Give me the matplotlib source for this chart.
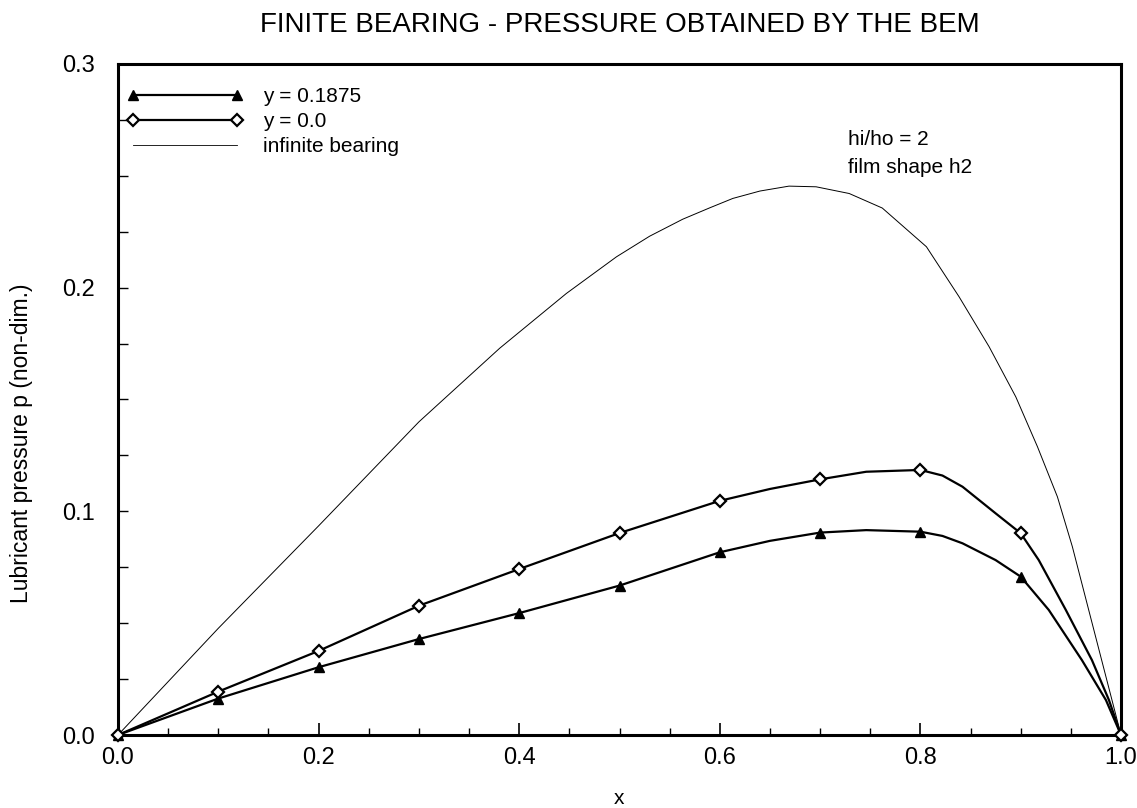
import matplotlib
matplotlib.use("Agg")
import matplotlib.pyplot as plt
from matplotlib.ticker import MultipleLocator, FormatStrFormatter
from matplotlib.lines import Line2D

plt.rcParams['font.family'] = ['Liberation Sans', 'DejaVu Sans']

# BEM results (markers)
x_pts = [0.0, 0.1, 0.2, 0.3, 0.4, 0.5, 0.6, 0.7, 0.8, 0.9, 1.0]
p_y01875 = [0.0, 0.0163, 0.0303, 0.0429, 0.0545, 0.0668, 0.0817, 0.0905, 0.0909, 0.0708, 0.0]
p_y00 = [0.0, 0.0194, 0.0376, 0.0578, 0.0742, 0.0903, 0.1047, 0.1143, 0.1185, 0.0902, 0.0]

# Curves through the BEM results
xl_y01875 = [0.0, 0.1, 0.2, 0.3, 0.4, 0.5, 0.6, 0.65, 0.7, 0.746, 0.8, 0.822, 0.842, 0.875, 0.9,
             0.928, 0.961, 0.985, 1.0]
pl_y01875 = [0.0, 0.0163, 0.0303, 0.0429, 0.0545, 0.0668, 0.0817, 0.0868, 0.0905, 0.0916, 0.0909,
             0.0890, 0.0857, 0.0782, 0.0708, 0.0559, 0.0335, 0.0156, 0.0]
xl_y00 = [0.0, 0.1, 0.2, 0.3, 0.4, 0.5, 0.6, 0.65, 0.7, 0.746, 0.8, 0.822, 0.842, 0.875, 0.9,
          0.918, 0.945, 0.971, 0.988, 1.0]
pl_y00 = [0.0, 0.0194, 0.0376, 0.0578, 0.0742, 0.0903, 0.1047, 0.1100, 0.1143, 0.1177, 0.1185,
          0.1160, 0.1110, 0.0991, 0.0902, 0.0782, 0.0559, 0.0335, 0.0156, 0.0]

# Infinite bearing solution
x_inf = [0.0, 0.1, 0.2, 0.3, 0.3805, 0.447, 0.497, 0.53, 0.563, 0.59, 0.613, 0.64, 0.669,
         0.696, 0.729, 0.762, 0.806, 0.8386, 0.8685, 0.8951, 0.9167, 0.9366, 0.9515, 1.0]
p_inf = [0.0, 0.0477, 0.0935, 0.1400, 0.1729, 0.1974, 0.2138, 0.2230, 0.2306, 0.2357,
         0.2399, 0.2432, 0.2454, 0.2451, 0.2421, 0.2356, 0.2183, 0.1959, 0.1736, 0.1512,
         0.1289, 0.1065, 0.0842, 0.0]

labels = ["y = 0.1875", "y = 0.0", "infinite bearing"]

fig = plt.figure(figsize=(11.37, 8.08), dpi=100)
ax = fig.add_axes([118/1137, 1 - 735/808, (1121-118)/1137, (735-64)/808])

ax.plot(xl_y01875, pl_y01875, color='black', lw=1.6, zorder=3)
ax.plot(x_pts, p_y01875, linestyle='none', marker='^', ms=7.5, mfc='black', mec='black',
        zorder=4, clip_on=False)
ax.plot(xl_y00, pl_y00, color='black', lw=1.6, zorder=3)
ax.plot(x_pts, p_y00, linestyle='none', marker='D', ms=6.5, mfc='white', mec='black',
        mew=1.6, zorder=4, clip_on=False)
ax.plot(x_inf, p_inf, color='black', lw=0.7, zorder=2)

h1 = Line2D([], [], color='black', lw=1.6, marker='^', ms=7.5, mfc='black', mec='black')
h2 = Line2D([], [], color='black', lw=1.6, marker='D', ms=6.5, mfc='white', mec='black', mew=1.6)
h3 = Line2D([], [], color='black', lw=0.6)
ax.legend([h1, h2, h3], labels, loc='upper left', bbox_to_anchor=(0.009, 0.966),
          frameon=False, fontsize=15, numpoints=2, handlelength=5.6,
          handletextpad=0.95, labelspacing=0.3, borderaxespad=0.0, borderpad=0.0)

ax.text(0.728, 0.887, "hi/ho = 2", transform=ax.transAxes, fontsize=15, va='center')
ax.text(0.728, 0.846, "film shape h2", transform=ax.transAxes, fontsize=15, va='center')

ax.set_xlim(0, 1.0)
ax.set_ylim(0, 0.3)
ax.xaxis.set_major_locator(MultipleLocator(0.2))
ax.xaxis.set_minor_locator(MultipleLocator(0.05))
ax.yaxis.set_major_locator(MultipleLocator(0.1))
ax.yaxis.set_minor_locator(MultipleLocator(0.025))
ax.xaxis.set_major_formatter(FormatStrFormatter('%.1f'))
ax.yaxis.set_major_formatter(FormatStrFormatter('%.1f'))
ax.tick_params(axis='x', which='major', direction='in', length=8.5, width=1.2,
               labelsize=17, pad=9, top=False)
ax.tick_params(axis='x', which='minor', direction='in', length=5, width=1.0, top=False)
ax.tick_params(axis='y', which='major', direction='in', length=7, width=1.0,
               labelsize=17, pad=17, right=False)
ax.tick_params(axis='y', which='minor', direction='in', length=7, width=1.0, right=False)
for s in ax.spines.values():
    s.set_linewidth(2.2)

ax.set_xlabel("x", fontsize=15, va='center')
ax.xaxis.set_label_coords(0.5, -0.095)
ax.set_ylabel("Lubricant pressure p (non-dim.)", fontsize=16.5)
ax.yaxis.set_label_coords(-0.085, 0.435)
ax.set_title("FINITE BEARING - PRESSURE OBTAINED BY THE BEM", fontsize=20, pad=23)

fig.savefig("out.png", dpi=100)
